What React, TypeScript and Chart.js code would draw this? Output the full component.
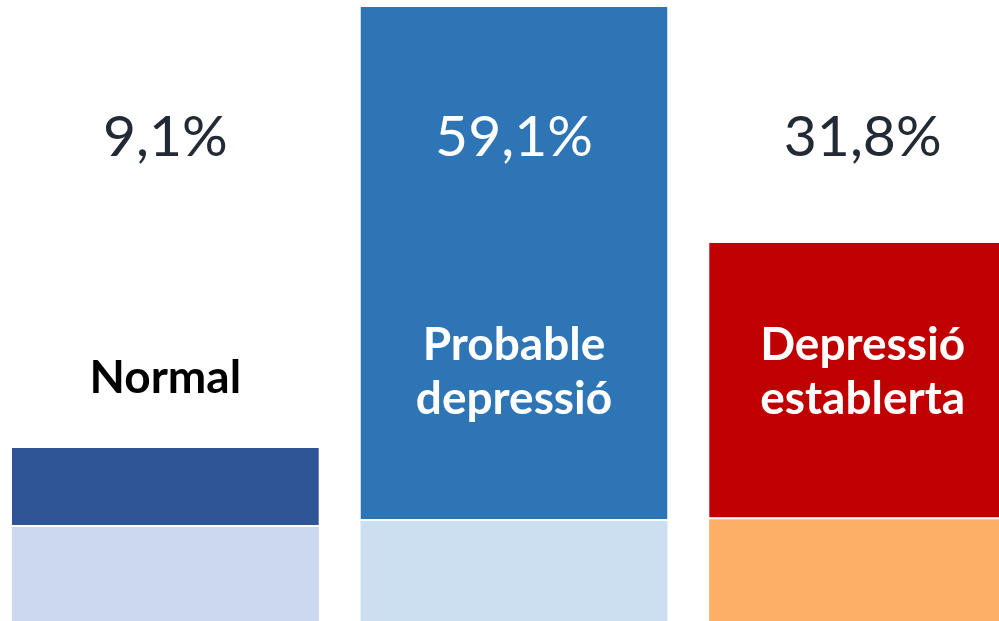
import React, { useEffect, useRef } from "react";
import { Chart, registerables } from "chart.js";

Chart.register(...registerables);

const categories: string[][] = [["Normal"], ["Probable", "depressió"], ["Depressió", "establerta"]];
const percentValues: number[] = [9.1, 59.1, 31.8];
const percentLabels: string[] = ["9,1%", "59,1%", "31,8%"];
const baseValues: number[] = [10.8, 11.5, 11.7];
const topColors: string[] = ["#2F5597", "#2E75B6", "#C00000"];
const baseColors: string[] = ["#CCD8EE", "#CCDFF0", "#FEAF66"];

const labelPlugin = {
  id: "labelPlugin",
  afterDatasetsDraw(chart: any) {
    const ctx: CanvasRenderingContext2D = chart.ctx;
    const area = chart.chartArea;
    const topMeta = chart.getDatasetMeta(1);
    ctx.save();
    ctx.textAlign = "center";
    ctx.textBaseline = "alphabetic";
    percentLabels.forEach((txt, i) => {
      const el = topMeta.data[i];
      const x = el.x;
      const baseline = area.top + 156;
      const textTop = baseline - 40;
      ctx.font = "57px Lato";
      ctx.fillStyle = el.y < textTop ? "#FFFFFF" : "#222A35";
      ctx.fillText(txt, x, baseline);
    });
    categories.forEach((lines, i) => {
      const el = topMeta.data[i];
      const x = el.x;
      const lineH = 54;
      const mid = area.top + (lines.length > 1 ? 370 : 376);
      const capH = 33;
      const firstBaseline = mid + capH / 2 - ((lines.length - 1) * lineH) / 2;
      ctx.font = "bold 46px Lato";
      ctx.fillStyle = el.y < firstBaseline - capH - 10 ? "#FFFFFF" : "#000000";
      lines.forEach((ln, j) => {
        ctx.fillText(ln, x, firstBaseline + j * lineH);
      });
    });
    ctx.restore();
  },
};

export default function App() {
  const ref = useRef<HTMLCanvasElement | null>(null);
  useEffect(() => {
    document.body.style.margin = "0";
    document.body.style.overflow = "hidden";
    if (!ref.current) return;
    const chart = new Chart(ref.current, {
      type: "bar",
      data: {
        labels: categories.map((c) => c.join(" ")),
        datasets: [
          {
            label: "base",
            data: baseValues,
            backgroundColor: baseColors,
            borderWidth: 0,
            categoryPercentage: 1,
            barPercentage: 307 / 348.67,
          },
          {
            label: "percent",
            data: percentValues,
            backgroundColor: topColors,
            borderColor: "#FFFFFF",
            borderWidth: { top: 0, left: 0, right: 0, bottom: 2 },
            borderSkipped: false,
            categoryPercentage: 1,
            barPercentage: 307 / 348.67,
          },
        ],
      },
      options: {
        responsive: false,
        animation: false,
        layout: { padding: 0 },
        plugins: { legend: { display: false }, tooltip: { enabled: false } },
        scales: {
          x: { stacked: true, display: false, offset: true },
          y: { stacked: true, display: false, min: 0, max: 71.4 },
        },
      },
      plugins: [labelPlugin],
    });
    return () => chart.destroy();
  }, []);
  return (
    <div style={{ position: "fixed", left: 0, top: 0, width: 999, height: 621, overflow: "hidden", background: "#fff" }}>
      <canvas
        ref={ref}
        width={1046}
        height={621}
        style={{ position: "absolute", left: -9, top: 0, width: 1046, height: 621 }}
      />
    </div>
  );
}
